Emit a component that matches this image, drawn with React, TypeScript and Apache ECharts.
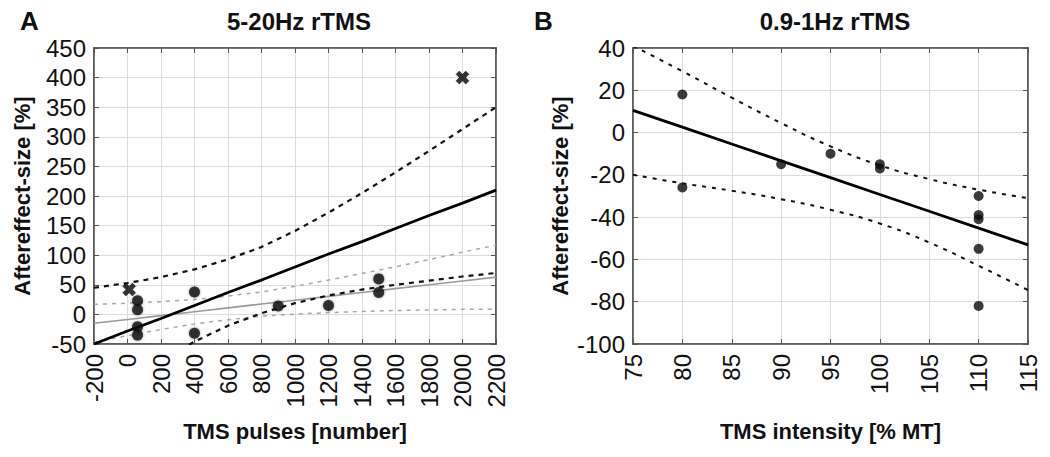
import React, { useEffect, useRef } from "react";
import * as echarts from "echarts";

// ---------- Panel A: 5-20Hz rTMS ----------
const aDotX = [60, 60, 60, 60, 400, 400, 900, 1200, 1500, 1500];
const aDotY = [23, 8, -21, -35, 38, -32, 14, 15, 60, 37];
const aCrossX = [10, 2000];
const aCrossY = [42, 400];
const aFitX = [-200, 0, 200, 400, 600, 800, 1000, 1200, 1400, 1600, 1800, 2000, 2200];
const aMainFit = [-50, -28, -7, 15, 37, 58, 80, 102, 123, 145, 167, 188, 210];
const aMainUpper = [45, 53, 63, 76, 93, 114, 141, 172, 205, 240, 276, 313, 350];
const aMainLower = [-145, -110, -77, -46, -19, 2, 19, 32, 42, 50, 57, 64, 70];
const aAltFit = [-15, -8.5, -2, 4.5, 11, 17.5, 24, 30.5, 37, 43.5, 50, 56.5, 63];
const aAltUpper = [17, 19, 21.5, 25, 31, 38, 47.5, 58, 69, 80.5, 92.5, 105, 117];
const aAltLower = [-47, -36, -25.5, -16, -9, -3, 0.5, 3, 5, 6.5, 7.5, 8.5, 9];

// ---------- Panel B: 0.9-1Hz rTMS ----------
const bDotX = [80, 80, 90, 95, 100, 100, 110, 110, 110, 110, 110];
const bDotY = [18, -26, -15, -10, -15, -17, -30, -39, -41, -55, -82];
const bFitX = [75, 80, 85, 90, 95, 100, 105, 110, 115];
const bFit = [10.5, 2.6, -5.4, -13.4, -21.3, -29.3, -37.2, -45.2, -53.1];
const bUpper = [41, 29, 16.5, 4.5, -6.5, -15.5, -22, -27, -31];
const bLower = [-20, -24, -27.5, -31.5, -36.5, -43, -52, -63, -74.5];

const FONT = "'Liberation Sans', Arial, Helvetica, sans-serif";
const CROSS = "path://M0,2.5 L2.5,0 L5,2.5 L7.5,0 L10,2.5 L7.5,5 L10,7.5 L7.5,10 L5,7.5 L2.5,10 L0,7.5 L2.5,5 Z";

const zip = (xs: number[], ys: number[]) => xs.map((x, i) => [x, ys[i]]);

function mainAxis(
  pos: "bottom" | "left",
  gridIndex: number,
  min: number,
  max: number,
  interval: number,
  name: string,
  nameGap: number
) {
  const isX = pos === "bottom";
  return {
    type: "value",
    gridIndex,
    position: pos,
    min,
    max,
    interval,
    name,
    nameLocation: "middle",
    nameGap,
    nameTextStyle: { fontFamily: FONT, fontSize: 22, fontWeight: "bold", color: "#111" },
    axisLine: { show: true, onZero: false, lineStyle: { color: "#555", width: 1.5 } },
    axisTick: { show: true, inside: true, length: 5, lineStyle: { color: "#555", width: 1 } },
    axisLabel: {
      show: true,
      fontFamily: FONT,
      fontSize: 24,
      color: "#111",
      margin: isX ? 10 : 8,
      rotate: isX ? 90 : 0,
      showMinLabel: true,
      showMaxLabel: true,
      hideOverlap: false,
      formatter: (v: number) => String(v),
    },
    splitLine: { show: true, lineStyle: { color: "#dcdcdc", width: 1 } },
  };
}

function tickAxis(pos: "top" | "right", gridIndex: number, min: number, max: number, interval: number) {
  return {
    type: "value",
    gridIndex,
    position: pos,
    min,
    max,
    interval,
    axisLine: { show: true, onZero: false, lineStyle: { color: "#555", width: 1.5 } },
    axisTick: { show: true, inside: true, length: 5, lineStyle: { color: "#555", width: 1 } },
    axisLabel: { show: false },
    splitLine: { show: false },
  };
}

function lineSeries(
  xi: number,
  yi: number,
  xs: number[],
  ys: number[],
  color: string,
  width: number,
  type: any,
  z: number,
  smooth = false
) {
  return {
    type: "line",
    xAxisIndex: xi,
    yAxisIndex: yi,
    data: zip(xs, ys),
    showSymbol: false,
    symbol: "none",
    smooth,
    clip: true,
    z,
    lineStyle: { color, width, type },
    silent: true,
  };
}

export default function App() {
  const ref = useRef<HTMLDivElement>(null);
  useEffect(() => {
    if (!ref.current) return;
    const chart = echarts.init(ref.current, undefined, { renderer: "svg" });
    const titleStyle = { fontFamily: FONT, fontSize: 24, fontWeight: "bold", color: "#111" };
    const option: any = {
      animation: false,
      backgroundColor: "#ffffff",
      title: [
        { text: "A", left: 15, top: 3, textStyle: { ...titleStyle, fontSize: 26 } },
        { text: "5-20Hz rTMS", left: 294, top: 4, textAlign: "center", textStyle: titleStyle },
        { text: "B", left: 529, top: 3, textStyle: { ...titleStyle, fontSize: 26 } },
        { text: "0.9-1Hz rTMS", left: 830, top: 4, textAlign: "center", textStyle: titleStyle },
      ],
      grid: [
        { left: 94, right: 554, top: 48, bottom: 113, show: true, borderColor: "#555", borderWidth: 1.5, backgroundColor: "#fff" },
        { left: 633, right: 22, top: 48, bottom: 113, show: true, borderColor: "#555", borderWidth: 1.5, backgroundColor: "#fff" },
      ],
      xAxis: [
        mainAxis("bottom", 0, -200, 2200, 200, "TMS pulses [number]", 76),
        mainAxis("bottom", 1, 75, 115, 5, "TMS intensity [% MT]", 76),
        tickAxis("top", 0, -200, 2200, 200),
        tickAxis("top", 1, 75, 115, 5),
      ],
      yAxis: [
        mainAxis("left", 0, -50, 450, 50, "Aftereffect-size [%]", 61),
        mainAxis("left", 1, -100, 40, 20, "Aftereffect-size [%]", 62),
        tickAxis("right", 0, -50, 450, 50),
        tickAxis("right", 1, -100, 40, 20),
      ],
      series: [
        // Panel A
        lineSeries(0, 0, aFitX, aAltUpper, "#a8a8a8", 1.5, [4, 5], 2),
        lineSeries(0, 0, aFitX, aAltLower, "#a8a8a8", 1.5, [4, 5], 2),
        lineSeries(0, 0, aFitX, aAltFit, "#9a9a9a", 1.6, "solid", 2),
        lineSeries(0, 0, aFitX, aMainUpper, "#111", 2.2, [5, 5], 3),
        lineSeries(0, 0, aFitX, aMainLower, "#111", 2.2, [5, 5], 3),
        lineSeries(0, 0, aFitX, aMainFit, "#000", 2.8, "solid", 3),
        {
          type: "scatter",
          xAxisIndex: 0,
          yAxisIndex: 0,
          data: zip(aDotX, aDotY),
          symbol: "circle",
          symbolSize: 11,
          itemStyle: { color: "#0a0a0a", shadowBlur: 3, shadowColor: "rgba(0,0,0,0.45)" },
          z: 5,
          silent: true,
        },
        {
          type: "scatter",
          xAxisIndex: 0,
          yAxisIndex: 0,
          data: zip(aCrossX, aCrossY),
          symbol: CROSS,
          symbolSize: 13,
          itemStyle: { color: "#000", borderColor: "#000", borderWidth: 0.5 },
          z: 5,
          silent: true,
        },
        // Panel B
        lineSeries(1, 1, bFitX, bUpper, "#111", 2, [4, 6], 3, true),
        lineSeries(1, 1, bFitX, bLower, "#111", 2, [4, 6], 3, true),
        lineSeries(1, 1, bFitX, bFit, "#000", 2.8, "solid", 3),
        {
          type: "scatter",
          xAxisIndex: 1,
          yAxisIndex: 1,
          data: zip(bDotX, bDotY),
          symbol: "circle",
          symbolSize: 10,
          itemStyle: { color: "#0a0a0a" },
          z: 5,
          silent: true,
        },
      ],
    };
    chart.setOption(option);
    return () => chart.dispose();
  }, []);
  return (
    <div
      ref={ref}
      style={{ position: "fixed", left: 0, top: 0, width: 1050, height: 457, background: "#fff" }}
    />
  );
}
